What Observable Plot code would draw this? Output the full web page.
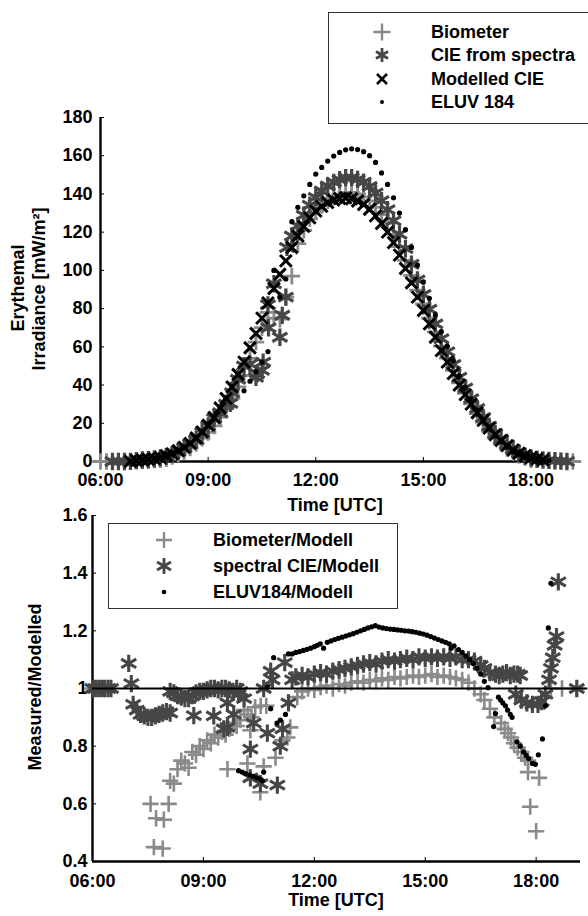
<!DOCTYPE html>
<html><head><meta charset="utf-8">
<script src="https://cdn.jsdelivr.net/npm/d3@7"></script>
<script src="https://cdn.jsdelivr.net/npm/@observablehq/plot@0.6"></script>
<style>
html,body{margin:0;padding:0;background:#fff;}
body{width:588px;height:916px;position:relative;overflow:hidden;font-family:"Liberation Sans",Arial,Helvetica,sans-serif;font-weight:bold;color:#000;}
#top,#bot{position:absolute;left:0;}
#top{top:0;} #bot{top:490px;}
.lbl{position:absolute;font-size:18px;font-weight:bold;white-space:nowrap;transform:translate(-50%,-50%);line-height:1;}
.rot{transform:translate(-50%,-50%) rotate(-90deg);}
.box{position:absolute;border:1.3px solid #333;background:#fff;box-sizing:border-box;}
.ltxt{position:absolute;font-size:18px;font-weight:bold;white-space:nowrap;transform:translateY(-50%);line-height:1;}
svg.sym{position:absolute;overflow:visible;}
</style></head>
<body>
<div id="top"></div>
<div id="bot"></div>
<script>
// ---------- DATA ----------
const xTickHours = [6, 9, 12, 15, 18];
const topYTicks = [0, 20, 40, 60, 80, 100, 120, 140, 160, 180];
const botYTicks = [0.4, 0.6, 0.8, 1.0, 1.2, 1.4, 1.6];
const legendTopLabels = ["Biometer", "CIE from spectra", "Modelled CIE", "ELUV 184"];
const legendBotLabels = ["Biometer/Modell", "spectral CIE/Modell", "ELUV184/Modell"];
const xTitle = "Time [UTC]";
const yTitleTop = ["Erythemal", "Irradiance [mW/m²]"];
const yTitleBot = "Measured/Modelled";

// upper panel: 10-minute readings, 06:00 .. 19:10
const topTimes = [
 "06:00","06:10","06:20","06:30","06:40","06:50",
 "07:00","07:10","07:20","07:30","07:40","07:50",
 "08:00","08:10","08:20","08:30","08:40","08:50",
 "09:00","09:10","09:20","09:30","09:40","09:50",
 "10:00","10:10","10:20","10:30","10:40","10:50",
 "11:00","11:10","11:20","11:30","11:40","11:50",
 "12:00","12:10","12:20","12:30","12:40","12:50",
 "13:00","13:10","13:20","13:30","13:40","13:50",
 "14:00","14:10","14:20","14:30","14:40","14:50",
 "15:00","15:10","15:20","15:30","15:40","15:50",
 "16:00","16:10","16:20","16:30","16:40","16:50",
 "17:00","17:10","17:20","17:30","17:40","17:50",
 "18:00","18:10","18:20","18:30","18:40","18:50",
 "19:00","19:10"];
const topBiometer = [
 0,0,0,0,0,0.1,
 0.3,0.4,0.6,0.8,1.0,1.4,
 2.6,3.8,5.3,7.1,9.5,12.2,
 15.2,18.6,23.2,27.7,33,39,
 45,54,62.5,70,78,75,
 74.5,86,97,114,121,127,
 131,134,136.5,138.5,139.8,140.7,
 140.8,140,138.5,136.3,133,129.2,
 124.7,119,112.4,105.2,97.4,89.7,
 82.4,75.1,67.8,60.4,54.1,47.7,
 41.2,35.7,30.2,25,20.6,16,
 12.4,9.4,6.8,4.7,3.2,2.1,
 1.0,0.9,0.6,0.4,0.3,0.2,
 0,0];
const topCieSpectra = [
 null,null,0,0,0,0.1,
 0.5,0.8,1.0,1.4,1.9,2.7,
 3.7,5.4,7.2,9.3,11.5,15.2,
 18.6,22.5,25.5,30,36,43,
 50,51,44,47.7,82,93,
 65,86,118,123.3,128.9,134.1,
 138.2,141.5,144.2,146.1,147.5,148.5,
 148.5,147.6,146.2,143.9,140.5,136.5,
 131.8,126,118.9,111.4,103.2,95,
 87.4,79.7,72,64.2,57.5,50.8,
 44.1,38.5,32.9,27.7,23,18.5,
 14.7,11.6,8.7,6.3,4.2,2.85,
 1.9,1.2,0.9,0.6,0.4,0.2,
 0,null];
const cieExtraTimes = ["09:37","10:22","10:32","10:41","11:04","11:12"];
const cieExtraValues = [30.4, 46, 52, 70, 76.5, 112];
const topModelled = [
 null,null,null,null,null,0.1,
 0.5,0.8,1.1,1.5,2.1,3.0,
 4.0,5.6,7.4,9.5,12.3,15.5,
 19,23,28,33,39,45.5,
 52,59.5,67,75,83,90.5,
 98,105,112,118,123,127.5,
 131,133.5,135.5,136.8,137.6,138,
 137.5,136.3,134.5,132,128.5,124.5,
 120,114.5,108,101,93.5,86,
 79,72,65,58,52,46,
 40,35,30,25.5,21.5,17.5,
 14,11,8.3,6,4.3,3,
 2,1.3,0.8,null,null,null,
 null,null];
const topEluv = [
 null,null,null,null,null,null,
 0.5,0.8,1.1,1.5,2.1,3.0,
 4.0,5.6,7.4,9.5,12.3,15.5,
 19,23,28,33,39,45.5,
 37,42,47,52,57.5,100,
 86,95.5,125.5,133,139,145,
 150.4,153.9,157.2,159.8,161.7,163.1,
 163.6,163.2,162.1,160,156.5,151,
 145,138,130,121.3,112,102.8,
 94,85.4,76.7,68,60.3,52.7,
 45,38.9,32.6,26.8,21.7,17.2,
 13.5,10.4,7.6,5,3.4,2.25,
 1.5,1.07,0.9,0.65,null,null,
 null,null];

// lower panel: ratios (hours UTC, decimal)
const bioRatioHours = [6.0,6.1,6.2,6.3,
 7.57,7.66,7.72,7.9,7.93,8.06,
 8.1,8.2,8.3,8.4,8.5,8.6,8.7,8.8,8.9,9.0,9.1,9.2,9.3,9.4,9.5,9.6,9.7,9.8,9.9,10.0,10.1,10.2,10.3,10.4,10.55,10.7,
 9.65,10.19,10.27,10.54,10.63,10.95,11.14,11.27,11.35,11.54,
 11.67,11.83,12.0,12.17,12.33,12.5,12.67,12.83,13.0,13.17,13.33,13.5,13.67,13.83,14.0,14.17,14.33,14.5,14.67,14.83,15.0,15.17,15.33,15.5,15.67,15.83,16.0,16.17,16.33,16.5,
 16.6,16.75,16.87,17.05,17.15,17.24,17.32,17.4,17.5,17.6,17.7,17.78,17.78,17.84,18.0,18.08,18.4,18.7,19.1];
const bioRatioValues = [1.0,1.0,1.0,1.0,
 0.60,0.45,0.55,0.445,0.545,0.60,
 0.68,0.67,0.72,0.75,0.74,0.725,0.78,0.77,0.80,0.79,0.82,0.81,0.84,0.83,0.85,0.84,0.86,0.88,0.87,0.89,0.925,0.91,0.90,0.935,0.94,0.94,
 0.72,0.74,0.855,0.64,0.73,0.76,0.82,0.83,0.865,0.97,
 0.99,1.0,0.995,1.005,1.01,1.0,1.015,1.01,1.02,1.025,1.02,1.03,1.025,1.035,1.03,1.04,1.035,1.04,1.045,1.04,1.045,1.05,1.04,1.045,1.04,1.035,1.03,1.02,1.0,0.98,
 0.96,0.93,0.90,0.88,0.86,0.845,0.83,0.81,0.795,0.78,0.76,0.75,0.71,0.59,0.505,0.69,1.0,1.0,1.0];

const specRatioHours = [6.0,6.08,6.17,6.25,6.33,6.42,6.5,
 6.98,7.05,
 7.1,7.2,7.3,7.4,7.5,7.6,7.7,7.8,7.9,8.0,8.1,
 8.74,
 8.1,8.2,8.3,8.4,8.5,8.6,8.7,8.8,8.9,9.0,9.1,9.2,9.3,9.4,9.5,9.6,9.7,9.8,9.9,10.0,
 9.28,9.55,9.65,9.65,9.82,9.95,10.1,10.27,10.27,10.36,10.54,10.63,10.73,10.82,10.87,11.0,11.08,11.14,11.2,11.3,
 11.4,11.5,11.67,11.83,12.0,12.17,12.33,12.5,12.67,12.83,13.0,13.17,13.33,13.5,13.67,13.83,14.0,14.17,14.33,14.5,14.67,14.83,15.0,15.17,15.33,15.5,15.67,15.83,16.0,16.17,16.33,16.5,16.6,16.75,16.9,17.0,17.1,17.2,17.3,17.4,17.5,17.57,
 17.45,17.6,17.75,17.9,18.05,18.15,18.25,
 18.35,18.4,18.45,18.5,18.55,18.6,19.1];
const specRatioValues = [1.0,1.0,1.0,1.0,1.0,1.0,1.0,
 1.087,1.017,
 0.945,0.925,0.91,0.905,0.9,0.9,0.905,0.91,0.915,0.92,0.915,
 0.906,
 0.99,0.985,0.975,0.97,0.965,0.965,0.975,0.985,0.99,0.99,0.995,1.0,1.0,0.995,1.0,1.0,0.995,0.99,1.0,0.99,
 0.905,0.86,0.95,0.865,0.91,0.98,0.965,0.79,0.69,0.88,0.67,1.0,0.845,1.06,1.03,0.665,0.80,0.86,1.09,0.95,
 1.03,1.04,1.045,1.04,1.05,1.055,1.05,1.06,1.065,1.07,1.075,1.08,1.085,1.09,1.085,1.095,1.1,1.095,1.1,1.105,1.1,1.11,1.105,1.11,1.105,1.11,1.105,1.11,1.1,1.1,1.095,1.08,1.07,1.055,1.05,1.045,1.05,1.055,1.045,1.05,1.05,1.045,
 0.98,0.96,0.95,0.945,0.945,0.955,0.98,
 1.03,1.07,1.107,1.15,1.18,1.37,1.0];

const eluvRatioHours = [9.95,10.05,10.15,10.25,10.35,10.45,10.55,10.63,10.6,10.73,10.82,10.9,10.99,11.08,11.22,
 11.3,11.4,11.5,11.6,11.7,11.8,11.9,12.0,12.08,12.16,12.25,12.35,12.45,12.55,12.65,12.75,12.85,12.95,13.05,13.15,13.25,13.35,13.45,13.55,13.65,
 13.75,13.85,13.95,14.05,14.15,14.25,14.35,14.45,14.55,14.65,14.75,14.85,14.95,15.05,15.15,15.25,15.35,15.45,15.55,15.65,15.7,15.78,15.9,16.0,16.1,16.2,16.3,16.4,16.5,16.6,16.7,
 16.85,16.9,16.98,17.04,17.1,17.17,17.23,17.3,17.35,17.48,17.57,17.66,17.73,17.8,17.9,17.98,18.06,18.17,18.25,18.33,18.4];
const eluvRatioValues = [0.715,0.71,0.705,0.70,0.695,0.69,0.685,0.71,0.68,1.005,0.93,1.107,0.88,0.89,0.91,
 1.12,1.12,1.125,1.128,1.132,1.136,1.14,1.145,1.15,1.155,1.14,1.16,1.165,1.17,1.174,1.178,1.182,1.186,1.19,1.195,1.2,1.205,1.21,1.214,1.218,
 1.213,1.21,1.208,1.206,1.205,1.203,1.202,1.2,1.199,1.197,1.195,1.192,1.189,1.185,1.18,1.175,1.17,1.165,1.16,1.155,1.14,1.148,1.135,1.125,1.113,1.1,1.087,1.07,1.05,1.025,1.003,
 0.868,0.913,0.97,0.96,0.95,0.94,0.925,0.91,0.9,0.815,0.80,0.78,0.768,0.757,0.74,0.737,0.77,0.825,0.94,1.21,1.365];

// ---------- STYLE ----------
const C_BIO = "#8a8a8a", C_SPEC = "#464646", C_BLACK = "#000";
const FONT = '"Liberation Sans", Arial, Helvetica, sans-serif';

const toHours = s => { const [h, m] = s.split(":").map(Number); return h + m / 60; };
const gridRows = vals => topTimes.map((t, i) => ({x: toHours(t), y: vals[i]})).filter(d => d.y != null);
const pairRows = (xs, ys) => xs.map((x, i) => ({x, y: ys[i]}));
const fmtHour = h => String(h).padStart(2, "0") + ":00";

const baseStyle = {fontFamily: FONT, fontSize: "18px", fontWeight: "bold", color: "#000", background: "transparent", overflow: "visible"};

const topPlot = Plot.plot({
  width: 588, height: 520,
  marginLeft: 100, marginRight: 18, marginTop: 117, marginBottom: 59,
  style: baseStyle,
  x: {domain: [6, 19.1], ticks: xTickHours, tickFormat: fmtHour, tickSize: -4, tickPadding: 16, label: null},
  y: {domain: [0, 180], ticks: topYTicks, tickSize: -4, tickPadding: 12, label: null},
  marks: [
    Plot.ruleX([6], {stroke: "#000", strokeWidth: 2.4}),
    Plot.ruleY([0], {stroke: "#000", strokeWidth: 2.4}),
    Plot.dot(gridRows(topBiometer), {x: "x", y: "y", symbol: "plus", r: 5.4, stroke: C_BIO, strokeWidth: 2.8}),
    Plot.dot(gridRows(topCieSpectra), {x: "x", y: "y", symbol: "asterisk", r: 8.2, stroke: C_SPEC, strokeWidth: 3.2}),
    Plot.dot(pairRows(cieExtraTimes.map(toHours), cieExtraValues), {x: "x", y: "y", symbol: "asterisk", r: 8.2, stroke: C_SPEC, strokeWidth: 3.2}),
    Plot.dot(gridRows(topModelled), {x: "x", y: "y", symbol: "times", r: 5.4, stroke: C_BLACK, strokeWidth: 3}),
    Plot.dot(gridRows(topEluv), {x: "x", y: "y", r: 2.6, fill: C_BLACK, stroke: "none"})
  ]
});
document.getElementById("top").append(topPlot);

const botPlot = Plot.plot({
  width: 588, height: 426,
  marginLeft: 92, marginRight: 8, marginTop: 25, marginBottom: 55,
  style: baseStyle,
  x: {domain: [6, 19.2], ticks: xTickHours, tickFormat: fmtHour, tickSize: -4, tickPadding: 17, label: null},
  y: {domain: [0.4, 1.6], ticks: botYTicks, tickFormat: d => String(+d.toFixed(1)), tickSize: -4, tickPadding: 9, label: null},
  marks: [
    Plot.ruleX([6], {stroke: "#000", strokeWidth: 2.4}),
    Plot.ruleY([0.4], {stroke: "#000", strokeWidth: 2.4}),
    Plot.dot(pairRows(bioRatioHours, bioRatioValues), {x: "x", y: "y", symbol: "plus", r: 5.3, stroke: C_BIO, strokeWidth: 2.6}),
    Plot.dot(pairRows(specRatioHours, specRatioValues), {x: "x", y: "y", symbol: "asterisk", r: 8.2, stroke: C_SPEC, strokeWidth: 3.1}),
    Plot.dot(pairRows(eluvRatioHours, eluvRatioValues), {x: "x", y: "y", r: 2.6, fill: C_BLACK, stroke: "none"}),
    Plot.ruleY([1], {x1: 6, x2: 19.4, stroke: "#000", strokeWidth: 2.2})
  ]
});
document.getElementById("bot").append(botPlot);

// ---------- TITLES ----------
function label(text, x, y, rot) {
  const d = document.createElement("div");
  d.className = "lbl" + (rot ? " rot" : "");
  d.textContent = text;
  d.style.left = x + "px"; d.style.top = y + "px";
  document.body.append(d);
}
label(xTitle, 335, 505);
label(xTitle, 336, 900);
label(yTitleTop[0], 18, 288, true);
label(yTitleTop[1], 39, 289, true);
label(yTitleBot, 35, 687, true);

// ---------- LEGENDS ----------
function box(x, y, w, h) {
  const b = document.createElement("div");
  b.className = "box";
  Object.assign(b.style, {left: x + "px", top: y + "px", width: w + "px", height: h + "px"});
  document.body.append(b);
}
function legendRow(sym, r, color, sw, filled, text, sx, ty, tx) {
  const svg = d3.select(document.body).append("svg").attr("class", "sym")
    .attr("width", 30).attr("height", 30)
    .style("left", (sx - 15) + "px").style("top", (ty - 15) + "px");
  svg.append("path")
    .attr("transform", "translate(15,15)")
    .attr("d", d3.symbol(sym, Math.PI * r * r)())
    .attr("fill", filled ? color : "none")
    .attr("stroke", filled ? "none" : color)
    .attr("stroke-width", sw);
  const t = document.createElement("div");
  t.className = "ltxt"; t.textContent = text;
  t.style.left = tx + "px"; t.style.top = ty + "px";
  document.body.append(t);
}
box(328, 12, 280, 112);
const topRowsY = [32, 55, 79, 102];
legendRow(d3.symbolPlus, 5.6, C_BIO, 2.4, false, legendTopLabels[0], 382, topRowsY[0], 431);
legendRow(d3.symbolAsterisk, 6.6, C_SPEC, 2.8, false, legendTopLabels[1], 382, topRowsY[1], 431);
legendRow(d3.symbolTimes, 4.6, C_BLACK, 2.6, false, legendTopLabels[2], 382, topRowsY[2], 431);
legendRow(d3.symbolCircle, 2.0, C_BLACK, 0, true, legendTopLabels[3], 382, topRowsY[3], 431);

box(108, 523, 290, 86);
const botRowsY = [540, 566, 592];
legendRow(d3.symbolPlus, 5.2, C_BIO, 2.4, false, legendBotLabels[0], 164, botRowsY[0], 213);
legendRow(d3.symbolAsterisk, 7.6, C_SPEC, 2.8, false, legendBotLabels[1], 164, botRowsY[1], 213);
legendRow(d3.symbolCircle, 2.3, C_BLACK, 0, true, legendBotLabels[2], 164, botRowsY[2], 213);
</script>
</body></html>
